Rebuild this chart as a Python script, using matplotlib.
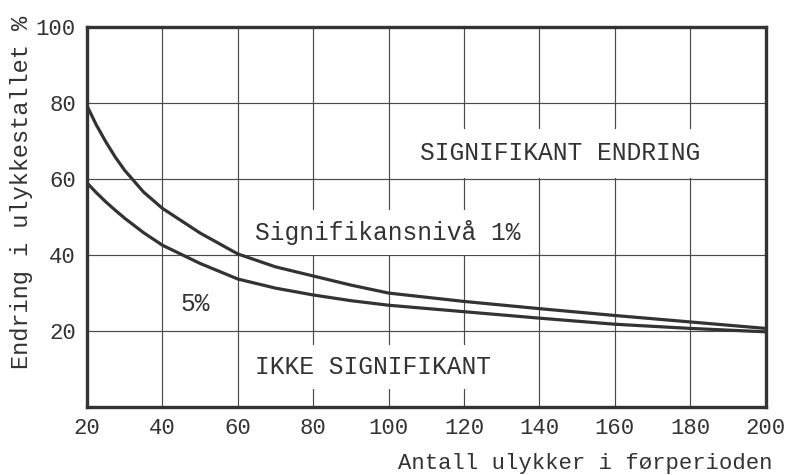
import matplotlib.pyplot as plt

# values
antall = [20, 22.5, 25, 27.5, 30, 35, 40, 50, 60, 70, 80, 90, 100, 120, 140, 160, 180, 200]
niva_1 = [79.3, 74.2, 69.8, 65.8, 62.3, 56.6, 52.3, 45.8, 40.3, 36.9, 34.5, 32.1, 30.0, 27.8, 25.9, 24.1, 22.4, 20.7]
niva_5 = [59.0, 56.4, 54.0, 51.8, 49.7, 45.9, 42.6, 37.8, 33.7, 31.3, 29.5, 28.0, 26.8, 25.1, 23.4, 21.8, 20.7, 19.8]

x_ticks = [20, 40, 60, 80, 100, 120, 140, 160, 180, 200]
y_ticks = [20, 40, 60, 80, 100]

ink = '#333333'
mono = 'Liberation Mono'

fig = plt.figure(figsize=(7.87, 4.75), dpi=100)
ax = fig.add_axes([0.1105, 0.143, 0.8625, 0.8])

ax.set_xlim(20, 200)
ax.set_ylim(0, 100)
ax.set_xticks(x_ticks)
ax.set_yticks(y_ticks)
ax.grid(True, color='#4a4a4a', lw=0.85)
ax.set_axisbelow(True)
ax.tick_params(length=0, pad=8, labelsize=16, colors=ink)
for lab in ax.get_xticklabels() + ax.get_yticklabels():
    lab.set_family(mono)
for s in ax.spines.values():
    s.set_linewidth(2.4)
    s.set_color(ink)

# the two significance curves
ax.plot(antall, niva_1, color=ink, lw=2.3, solid_capstyle='butt', zorder=3)
ax.plot(antall, niva_5, color=ink, lw=2.3, solid_capstyle='butt', zorder=3)

# labels in the plot, white boxes break the grid like on the original
fs = 17.7
ax.text(145.6, 66.8, 'SIGNIFIKANT ENDRING', family=mono, fontsize=fs, color=ink,
        ha='center', va='center', bbox=dict(facecolor='white', edgecolor='none', pad=9), zorder=2)
ax.text(99.8, 46.0, 'Signifikansnivå 1%', family=mono, fontsize=fs, color=ink,
        ha='center', va='center', bbox=dict(facecolor='white', edgecolor='none', pad=7), zorder=2)
ax.text(48.7, 27.2, '5%', family=mono, fontsize=fs, color=ink,
        ha='center', va='center', zorder=2)
ax.text(95.9, 10.5, 'IKKE SIGNIFIKANT', family=mono, fontsize=fs, color=ink,
        ha='center', va='center', bbox=dict(facecolor='white', edgecolor='none', pad=7), zorder=2)

# axis titles
fig.text(585 / 787, 1 - 463 / 475, 'Antall ulykker i førperioden', family=mono,
         fontsize=16, color=ink, ha='center', va='center')
fig.text(22 / 787, 1 - 192 / 475, 'Endring i ulykkestallet %', family=mono,
         fontsize=17, color=ink, ha='center', va='center', rotation=90)

fig.savefig('out.png', dpi=100, facecolor='white')
